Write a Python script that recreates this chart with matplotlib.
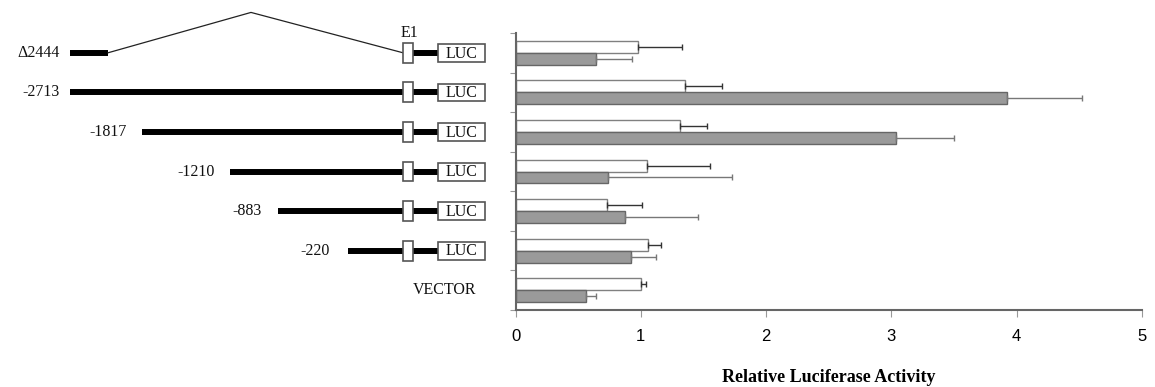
import numpy as np
import matplotlib.pyplot as plt
from matplotlib.patches import Rectangle

# construct names (top to bottom)
constructs = ['Δ2444', '-2713', '-1817', '-1210', '-883', '-220', 'VECTOR']

# relative luciferase activity
white_vals = [0.98, 1.35, 1.31, 1.05, 0.73, 1.06, 1.00]
white_err = [0.35, 0.30, 0.22, 0.50, 0.28, 0.10, 0.04]
gray_vals = [0.64, 3.92, 3.04, 0.74, 0.87, 0.92, 0.56]
gray_err = [0.29, 0.60, 0.46, 0.99, 0.59, 0.20, 0.08]
xticks = [0, 1, 2, 3, 4, 5]

# schematic: where each promoter line begins (drawing units, E1 box at 403)
line_start = [70, 70, 142, 230, 278, 348]
label_right = [60, 60, 127, 215, 262, 330]

W, H = 1155, 387
fig = plt.figure(figsize=(W / 100, H / 100), dpi=100)

ax_left, ax_right = 515.5, 1142
ax_top, ax_bot = 33, 310
pos = [ax_left / W, 1 - ax_bot / H, (ax_right - ax_left) / W, (ax_bot - ax_top) / H]
ax = fig.add_axes(pos)

n = len(constructs)
y = np.arange(n)
ax.barh(y - 0.15, white_vals, height=0.3, color='white', edgecolor='#808080', linewidth=1)
ax.barh(y + 0.15, gray_vals, height=0.3, color='#9a9a9a', edgecolor='#666666', linewidth=1)
ax.errorbar(white_vals, y - 0.15, xerr=[np.zeros(n), white_err], fmt='none',
            ecolor='#333333', elinewidth=1, capsize=2.5, capthick=1)
ax.errorbar(gray_vals, y + 0.15, xerr=[np.zeros(n), gray_err], fmt='none',
            ecolor='#777777', elinewidth=1, capsize=2.5, capthick=1)

ax.set_xlim(0, 5)
ax.set_ylim(n - 0.5, -0.5)
ax.set_xticks(xticks)
ax.set_xticklabels([str(t) for t in xticks], fontfamily='Liberation Sans', fontsize=12)
ax.set_yticks(np.arange(-0.5, n, 1))
ax.set_yticklabels([])
ax.tick_params(axis='x', length=5, color='#999999', pad=9)
ax.tick_params(axis='y', length=4, color='#999999')
for s in ['top', 'right']:
    ax.spines[s].set_visible(False)
for s in ['left', 'bottom']:
    ax.spines[s].set_color('#666666')
    ax.spines[s].set_linewidth(1.5)
ax.set_xlabel('Relative Luciferase Activity', fontfamily='Liberation Serif',
              fontweight='bold', fontsize=13, labelpad=18)

# promoter schematic on the left, same rows as the bars
ax_s = fig.add_axes([0, pos[1], ax_left / W, pos[3]])
ax_s.set_xlim(0, ax_left)
ax_s.set_ylim(n - 0.5, -0.5)
ax_s.axis('off')

serif = dict(fontfamily='Liberation Serif', fontsize=11.5, color='#111111')
e1_x, e1_w, luc_x, luc_w = 403, 10, 438, 47
for i in range(n - 1):
    if i == 0:
        ax_s.plot([line_start[i], 108], [i, i], color='black', lw=4.3, solid_capstyle='butt')
        ax_s.plot([108, 251, e1_x], [i, -1.02, i], color='#222222', lw=0.9, clip_on=False)
    else:
        ax_s.plot([line_start[i], e1_x], [i, i], color='black', lw=4.3, solid_capstyle='butt')
    ax_s.plot([e1_x + e1_w, luc_x], [i, i], color='black', lw=4.3, solid_capstyle='butt')
    ax_s.add_patch(Rectangle((e1_x, i - 0.25), e1_w, 0.5, facecolor='white',
                             edgecolor='#555555', lw=1.2, zorder=3))
    ax_s.add_patch(Rectangle((luc_x, i - 0.22), luc_w, 0.45, facecolor='white',
                             edgecolor='#555555', lw=1.2, zorder=3))
    ax_s.text(luc_x + luc_w / 2, i + 0.02, 'LUC', ha='center', va='center', zorder=4, **serif)
    ax_s.text(label_right[i], i, constructs[i], ha='right', va='center', **serif)

ax_s.text(e1_x + 6, -0.5, 'E1', ha='center', va='center', **serif)
ax_s.text(445, n - 1, constructs[-1], ha='center', va='center', **serif)

fig.savefig('out.png', dpi=100)
